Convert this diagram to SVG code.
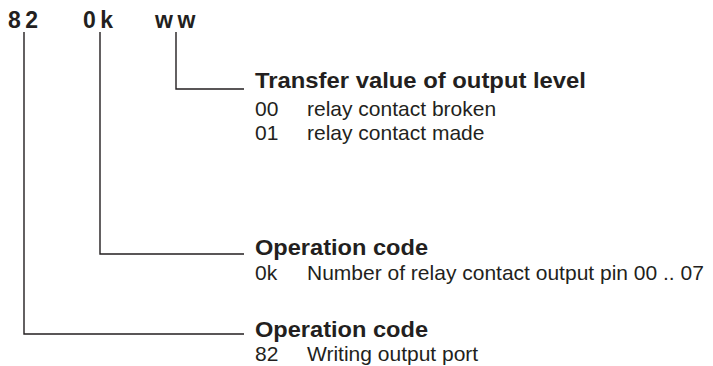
<svg xmlns="http://www.w3.org/2000/svg" width="713" height="366" viewBox="0 0 713 366">
<style>
text{font-family:"Liberation Sans",Arial,Helvetica,sans-serif;fill:#231f20}
.hd{font-size:23px;font-weight:bold;letter-spacing:4.5px}
.t{font-size:22px;font-weight:bold}
.r{font-size:21px}
.c{fill:none;stroke:#231f20;stroke-width:1.4}
</style>
<rect width="713" height="366" fill="#fff"/>
<g id="header">
<text class="hd" x="8" y="28">82</text>
<text class="hd" x="83" y="28">0k</text>
<text class="hd" x="155" y="28">ww</text>
</g>
<g id="connectors">
<polyline class="c" points="176,32 176,89 244,89"/>
<polyline class="c" points="100,32 100,254 244,254"/>
<polyline class="c" points="24,32 24,334 244,334"/>
</g>
<g id="node-ww">
<text class="t" x="255" y="88" textLength="331" lengthAdjust="spacingAndGlyphs">Transfer value of output level</text>
<text class="r" x="255" y="116">00</text>
<text class="r" x="307" y="116">relay contact broken</text>
<text class="r" x="255" y="140">01</text>
<text class="r" x="307" y="140">relay contact made</text>
</g>
<g id="node-0k">
<text class="t" x="255" y="255" textLength="173" lengthAdjust="spacingAndGlyphs">Operation code</text>
<text class="r" x="255" y="280">0k</text>
<text class="r" x="307" y="280">Number of relay contact output pin 00 .. 07</text>
</g>
<g id="node-82">
<text class="t" x="255" y="337" textLength="173" lengthAdjust="spacingAndGlyphs">Operation code</text>
<text class="r" x="255" y="361">82</text>
<text class="r" x="307" y="361">Writing output port</text>
</g>
</svg>
